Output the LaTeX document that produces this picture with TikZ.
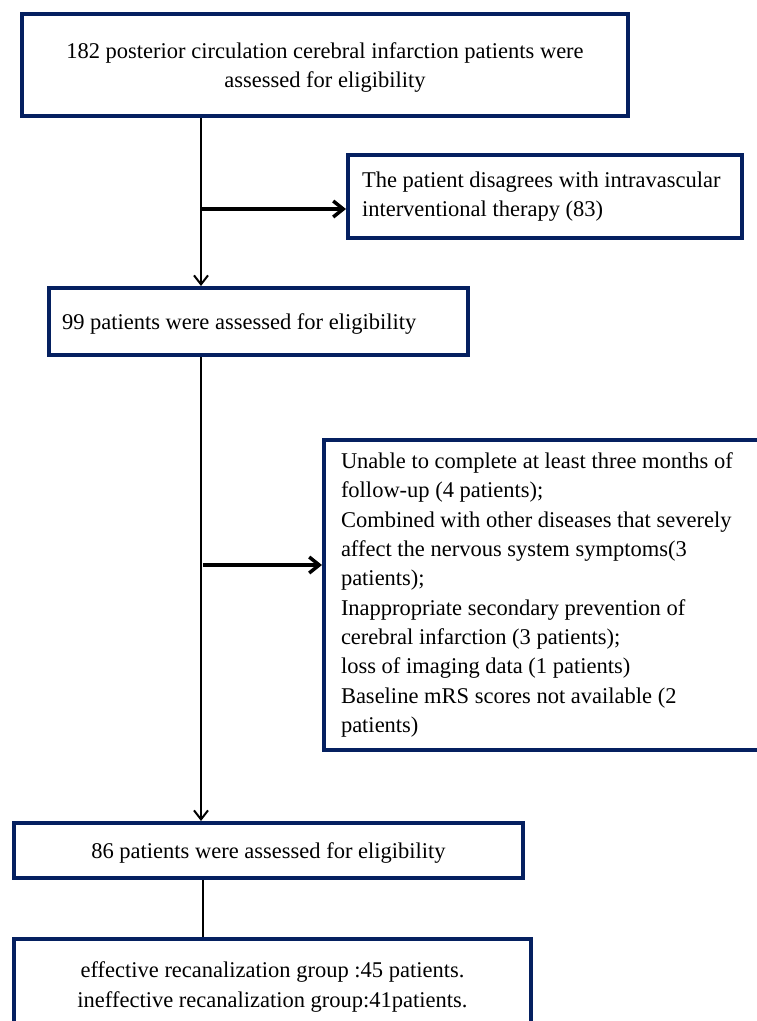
\documentclass[tikz,border=0pt]{standalone}
\usepackage{fontspec}
\setmainfont{Liberation Serif}
\usetikzlibrary{arrows.meta}
\definecolor{boxblue}{RGB}{5,32,96}
\tikzset{
  flowbox/.style={draw=boxblue, line width=4pt, fill=white, inner xsep=0pt, inner ysep=0pt,
    font=\fontsize{22.5}{29.3}\selectfont},
  midbox/.style={flowbox, align=center, text depth=0pt},
  leftbox/.style={flowbox, align=flush left},
  vline/.style={line width=2pt, -{Straight Barb[length=9pt,width=14pt]}},
  hline/.style={line width=3.5pt, -{Straight Barb[length=10pt,width=16pt]}},
}
\begin{document}
\begin{tikzpicture}[x=1pt,y=-1pt]
  \clip (0,0) rectangle (757,1021);
  \node[midbox, minimum width=606pt, minimum height=102pt] (start) at (325,65)
    {182 posterior circulation cerebral infarction patients were\\assessed for eligibility};
  \node[leftbox, minimum width=394pt, minimum height=83pt, text width=366pt] (refuse) at (545,196.5)
    {\mbox{The patient disagrees with intravascular}\\interventional therapy (83)};
  \node[leftbox, minimum width=419pt, minimum height=67pt, text width=393pt, text depth=0pt] (n99) at (258.5,321.5)
    {99 patients were assessed for eligibility};
  \node[leftbox, minimum width=456pt, minimum height=310pt, text width=422pt] (excl) at (552,595)
    {\mbox{Unable to complete at least three months of}\\follow-up (4 patients);\\\mbox{Combined with other diseases that severely}\\affect the nervous system symptoms(3\\patients);\\Inappropriate secondary prevention of\\cerebral infarction (3 patients);\\loss of imaging data (1 patients)\\Baseline mRS scores not available (2\\patients)};
  \node[midbox, minimum width=509pt, minimum height=55pt] (n86) at (268.5,850.5)
    {86 patients were assessed for eligibility};
  \node[midbox, minimum width=517pt, minimum height=91pt] (groups) at (272.5,984.5)
    {effective recanalization group :45 patients.\\ineffective recanalization group:41patients.};
  \coordinate (trunk) at (201,0);
  \coordinate (b1) at (201,209);
  \coordinate (b2) at (203,565);
  \draw[vline] (start.south -| trunk) -- (n99.north -| trunk);
  \draw[hline] (b1) -- (b1 -| refuse.west);
  \draw[vline] (n99.south -| trunk) -- (n86.north -| trunk);
  \draw[hline] (b2) -- (b2 -| excl.west);
  \draw[line width=2pt] (n86.south -| b2) -- (groups.north -| b2);
\end{tikzpicture}
\end{document}
